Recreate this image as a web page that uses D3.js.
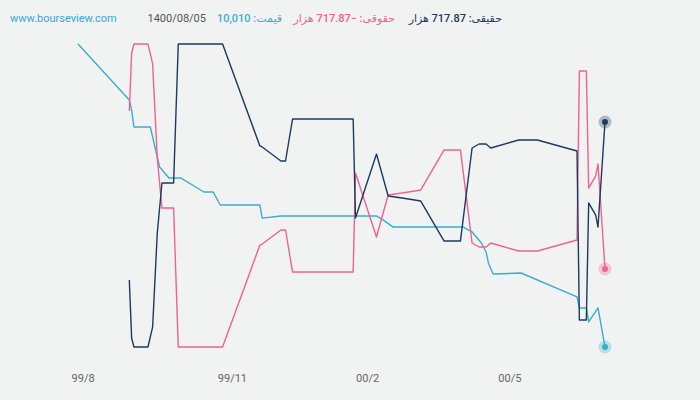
<!DOCTYPE html>
<html>
<head>
<meta charset="utf-8">
<script src="https://cdn.jsdelivr.net/npm/d3@7"></script>
<style>
  body { margin: 0; background: #f1f2f2; }
  svg { display: block; font-family: Roboto, "DejaVu Sans", sans-serif; }
</style>
</head>
<body>
<div id="chart"></div>
<script>
// روزهای معاملاتی (اندیس) و قیمت
var priceDays = [0, 22, 23, 24, 31, 33, 35, 39, 44, 54, 58, 61, 78, 79, 87, 128, 131, 135, 165, 169, 173, 175, 176, 178, 190, 214, 215, 218, 219, 223, 226];
var price = [29870, 26200, 25540, 24430, 24430, 23120, 21810, 21090, 21090, 20170, 20170, 19320, 19320, 18460, 18600, 18600, 18330, 17880, 17880, 17550, 16830, 16240, 15520, 14790, 14860, 13290, 12570, 12570, 11650, 12570, 10010];

// خالص ورود حقیقی / حقوقی (هزار)
var flowDays = [22, 23, 24, 30, 32, 34, 36, 41, 43, 62, 78, 79, 87, 89, 92, 118, 119, 128, 133, 139, 147, 157, 164, 169, 172, 175, 177, 189, 197, 214, 215, 218, 219, 222, 223, 226];
var haghighi = [-826, -1392, -1480, -1480, -1285, -366, 122, 122, 1480, 1480, 484, 474, 337, 337, 747, 747, -220, 405, -5, -24, -54, -445, -445, 464, 503, 503, 464, 542, 542, 435, -1216, -1216, -73, -191, -308, 717.87];
var hoghooghi = [826, 1392, 1480, 1480, 1285, 366, -122, -122, -1480, -1480, -484, -474, -337, -337, -747, -747, 220, -405, 5, 24, 54, 445, 445, -464, -503, -503, -464, -542, -542, -435, 1216, 1216, 73, 191, 308, -717.87];

var tickDays = [2, 66, 124, 185];
var tickLabels = ["99/8", "99/11", "00/2", "00/5"];

var width = 700;
var height = 400;

var navy = "#1d3b5c";
var pink = "#f0638d";
var teal = "#3aaec9";

var svg = d3.select("#chart").append("svg")
  .attr("width", width)
  .attr("height", height);

svg.append("rect").attr("width", width).attr("height", height).attr("fill", "#f1f2f2");

var x = d3.scaleLinear().domain([0, 226]).range([78, 605]);

var maxFlow = d3.max(haghighi.concat(hoghooghi), function (d) { return Math.abs(d); });
var yFlow = d3.scaleLinear().domain([-maxFlow, maxFlow]).range([347, 44]);
var yPrice = d3.scaleLinear().domain(d3.extent(price)).range([347, 44]);

// محور افقی
var xAxis = d3.axisBottom(x)
  .tickValues(tickDays)
  .tickSize(0)
  .tickPadding(0)
  .tickFormat(function (d, i) { return tickLabels[i]; });

var gx = svg.append("g")
  .attr("transform", "translate(0,374)")
  .call(xAxis);
gx.select(".domain").remove();
gx.selectAll("text")
  .attr("font-family", "Roboto, sans-serif")
  .attr("font-size", 11)
  .attr("fill", "#666");

function drawLine(days, values, yScale, color) {
  var pts = days.map(function (d, i) { return [d, values[i]]; });
  var line = d3.line()
    .x(function (d) { return x(d[0]); })
    .y(function (d) { return yScale(d[1]); });
  svg.append("path")
    .datum(pts)
    .attr("d", line)
    .attr("fill", "none")
    .attr("stroke", color)
    .attr("stroke-width", 1.4)
    .attr("stroke-linejoin", "round");

  var last = pts[pts.length - 1];
  svg.append("circle")
    .attr("cx", x(last[0])).attr("cy", yScale(last[1]))
    .attr("r", 6.5).attr("fill", color).attr("opacity", 0.3);
  svg.append("circle")
    .attr("cx", x(last[0])).attr("cy", yScale(last[1]))
    .attr("r", 3).attr("fill", color);
}

drawLine(priceDays, price, yPrice, teal);
drawLine(flowDays, hoghooghi, yFlow, pink);
drawLine(flowDays, haghighi, yFlow, navy);

// سربرگ
var lastH = haghighi[haghighi.length - 1];
var lastL = hoghooghi[hoghooghi.length - 1];
var lastP = price[price.length - 1];

svg.append("text")
  .attr("x", 10).attr("y", 22)
  .attr("font-size", 11).attr("fill", "#35a9d8")
  .text("www.bourseview.com");

svg.append("text")
  .attr("x", 206).attr("y", 22)
  .attr("text-anchor", "end")
  .attr("font-size", 11).attr("fill", "#555")
  .text("1400/08/05");

var header = [
  { x: 502, color: navy, text: "حقیقی: " + d3.format(".2f")(lastH) + " هزار" },
  { x: 395, color: pink, text: "حقوقی: " + d3.format(".2f")(lastL) + " هزار" },
  { x: 282, color: teal, text: "قیمت: " + d3.format(",")(lastP) }
];

svg.selectAll(".hdr")
  .data(header)
  .enter()
  .append("text")
  .attr("class", "hdr")
  .attr("x", function (d) { return d.x; })
  .attr("y", 22)
  .attr("direction", "rtl")
  .attr("text-anchor", "start")
  .attr("font-size", 11)
  .attr("font-weight", 500)
  .attr("fill", function (d) { return d.color; })
  .text(function (d) { return d.text; });
</script>
</body>
</html>
